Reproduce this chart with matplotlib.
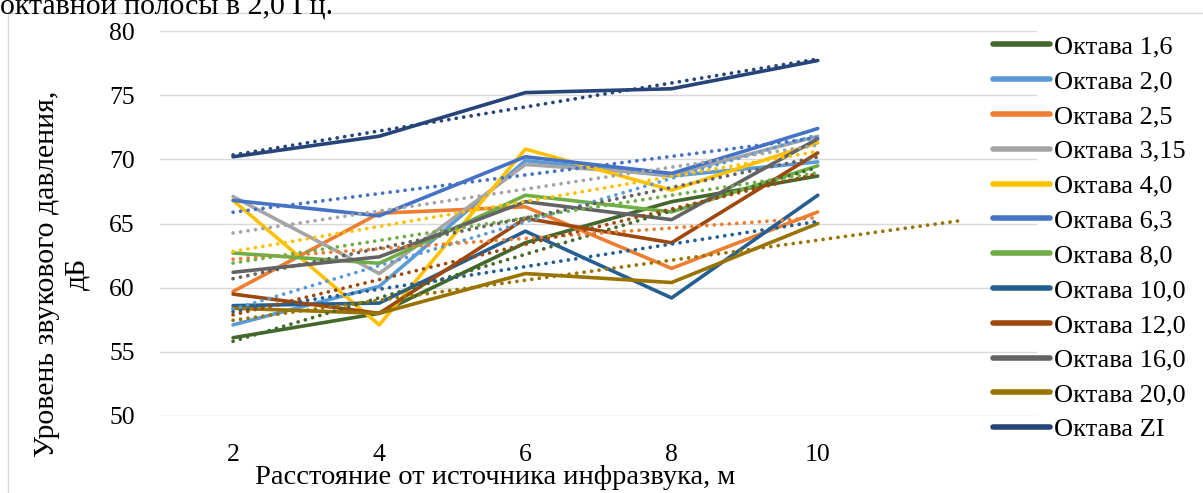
import numpy as np
import matplotlib
matplotlib.use("Agg")
import matplotlib.pyplot as plt
from matplotlib.patches import Rectangle

# Distance from the infrasound source, m
distances = ["2", "4", "6", "8", "10"]

# Sound pressure level per octave band, dB
octave_1_6 = [56.1, 58.0, 63.5, 66.7, 68.7]
octave_2_0 = [57.1, 60.1, 69.9, 68.7, 69.8]
octave_2_5 = [59.7, 65.8, 66.3, 61.5, 65.9]
octave_3_15 = [67.1, 61.1, 69.6, 68.8, 71.8]
octave_4_0 = [66.8, 57.1, 70.8, 67.6, 71.3]
octave_6_3 = [66.8, 65.6, 70.2, 68.9, 72.4]
octave_8_0 = [62.7, 61.9, 67.2, 65.9, 69.5]
octave_10_0 = [58.6, 58.8, 64.4, 59.2, 67.2]
octave_12_0 = [59.5, 58.0, 65.4, 63.5, 70.5]
octave_16_0 = [61.2, 62.4, 66.7, 65.3, 71.6]
octave_20_0 = [58.4, 58.0, 61.1, 60.4, 65.0]
octave_zi = [70.2, 71.8, 75.2, 75.5, 77.7]

series_labels = ["Октава 1,6", "Октава 2,0", "Октава 2,5", "Октава 3,15",
                 "Октава 4,0", "Октава 6,3", "Октава 8,0", "Октава 10,0",
                 "Октава 12,0", "Октава 16,0", "Октава 20,0", "Октава ZI"]
series_values = [octave_1_6, octave_2_0, octave_2_5, octave_3_15, octave_4_0,
                 octave_6_3, octave_8_0, octave_10_0, octave_12_0, octave_16_0,
                 octave_20_0, octave_zi]
series_colors = ["#43682B", "#5B9BD5", "#ED7D31", "#A5A5A5", "#FFC000",
                 "#4472C4", "#70AD47", "#255E91", "#9E480E", "#636363",
                 "#997300", "#264478"]
# periods the linear trend is extended beyond the last point
trend_forward = [0, 0, 0, 0, 0, 0, 0, 0, 0, 0, 1, 0]

plt.rcParams["font.family"] = ["Liberation Serif", "DejaVu Serif"]

W, H = 1203, 493
fig = plt.figure(figsize=(W / 100, H / 100), dpi=100)
fig.patch.set_facecolor("white")

# chart-area frame
fig.patches.append(Rectangle((8 / W, 1 - 13 / H), 1.2, -1.2,
                             transform=fig.transFigure, fill=False,
                             edgecolor="#D9D9D9", lw=1.0))

left, right, top, bottom = 160, 1037, 31, 416
ax = fig.add_axes([left / W, 1 - bottom / H, (right - left) / W, (bottom - top) / H])
ax.set_facecolor("none")

x = np.arange(len(distances))
handles = []
for vals, col, lab in zip(series_values, series_colors, series_labels):
    h, = ax.plot(x, vals, color=col, lw=2.6, solid_capstyle="round",
                 solid_joinstyle="round", label=lab, zorder=3)
    handles.append(h)

for vals, col, fwd in zip(series_values, series_colors, trend_forward):
    k, b = np.polyfit(x, vals, 1)
    xt = np.array([0, len(distances) - 1 + fwd])
    ax.plot(xt, k * xt + b, color=col, lw=2.7, linestyle=(0, (0.01, 2.0)),
            dash_capstyle="round", zorder=4)

ax.set_xlim(-0.5, 5.5)
ax.set_ylim(50, 80)
ax.set_yticks(np.arange(50, 81, 5))
ax.set_xticks(x)
ax.set_xticklabels(distances)
ax.grid(axis="y", color="#D9D9D9", lw=1.0, zorder=0)
ax.set_axisbelow(True)
for s in ax.spines.values():
    s.set_visible(False)
ax.tick_params(axis="both", length=0, labelsize=18.5, colors="black")
ax.tick_params(axis="y", pad=18)
ax.tick_params(axis="x", pad=20)

fig.text(495 / W, 1 - 478 / H, "Расстояние от источника инфразвука, м",
         ha="center", va="center", fontsize=20.5)
fig.text(62 / W, 1 - 274 / H, "Уровень звукового давления,\nдБ",
         ha="center", va="center", rotation=90, fontsize=21.5,
         multialignment="center", linespacing=1.22)

# caption line above the chart, running past the top edge
fig.text(0 / W, 1 - 15 / H, "октавной полосы в 2,0 Гц.",
         ha="left", va="baseline", fontsize=21.5)

leg = ax.legend(handles=handles, loc="upper left",
                bbox_to_anchor=(993 / W, 1 - 35 / H),
                bbox_transform=fig.transFigure, frameon=False,
                fontsize=19, handlelength=2.15, handletextpad=0.15,
                labelspacing=0.43, borderpad=0, borderaxespad=0)
for lh in leg.get_lines():
    lh.set_linewidth(4.0)

fig.savefig("out.png", dpi=100, facecolor="white")
